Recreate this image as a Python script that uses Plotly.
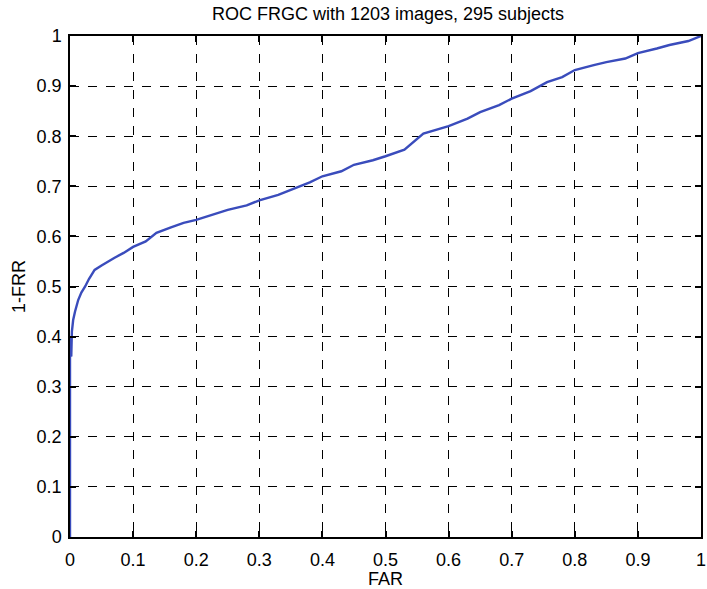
import plotly.graph_objects as go

far = [0.0, 0.0, 0.0015, 0.002, 0.003, 0.005, 0.008, 0.013, 0.018, 0.024, 0.03, 0.039, 0.05, 0.06, 0.07,
       0.085, 0.1, 0.12, 0.137, 0.16, 0.18, 0.2, 0.23, 0.25, 0.28, 0.3, 0.33, 0.35, 0.38, 0.4, 0.43,
       0.45, 0.48, 0.5, 0.53, 0.56, 0.6, 0.63, 0.65, 0.68, 0.7, 0.73, 0.756, 0.78, 0.8, 0.83, 0.85,
       0.88, 0.9, 0.93, 0.95, 0.98, 1.0]
tpr = [0.0, 0.36, 0.40, 0.36, 0.41, 0.433, 0.45, 0.473, 0.488, 0.50, 0.515, 0.533, 0.542, 0.55, 0.557,
       0.567, 0.579, 0.59, 0.607, 0.618, 0.627, 0.633, 0.645, 0.653, 0.662, 0.672, 0.683, 0.693, 0.708, 0.72, 0.73,
       0.743, 0.752, 0.76, 0.773, 0.805, 0.82, 0.835, 0.848, 0.862, 0.875, 0.89, 0.908, 0.918, 0.932, 0.942, 0.948,
       0.955, 0.966, 0.975, 0.982, 0.99, 1.0]

ticks = [0, 0.1, 0.2, 0.3, 0.4, 0.5, 0.6, 0.7, 0.8, 0.9, 1]
tick_text = ["0", "0.1", "0.2", "0.3", "0.4", "0.5", "0.6", "0.7", "0.8", "0.9", "1"]

fig = go.Figure()
fig.add_trace(go.Scatter(x=far, y=tpr, mode="lines", cliponaxis=False,
                         line=dict(color="#3a4cbc", width=2.4), showlegend=False))

FAM = "Liberation Sans, Arial, sans-serif"
font = dict(family=FAM, size=18, color="black")
axis_common = dict(range=[0, 1], tickvals=ticks, ticktext=tick_text,
                   showgrid=True, gridcolor="black", griddash="dash", gridwidth=1,
                   showline=True, linecolor="black", linewidth=1.5, mirror="ticks",
                   ticks="inside", ticklen=6, tickcolor="black", tickwidth=1.5,
                   zeroline=False, tickfont=font, automargin=False,
                   ticklabeloverflow="allow")

fig.update_layout(
    width=707, height=589,
    margin=dict(l=70, r=6, t=36, b=52),
    paper_bgcolor="white", plot_bgcolor="white",
    title=dict(text="ROC FRGC with 1203 images, 295 subjects", x=388 / 707, xanchor="center",
               xref="container", yref="container",
               y=1 - 14 / 589, yanchor="middle", font=dict(family=FAM, size=18, color="black")),
    xaxis=dict(**axis_common, ticklabelstandoff=6, title=dict(text="FAR", font=font, standoff=4)),
    yaxis=dict(**axis_common, ticklabelstandoff=3, title=dict(text="1-FRR", font=font, standoff=6)),
)

fig.write_html("out.html", config={"displayModeBar": False},
               post_script="document.body.style.margin='0';document.body.style.overflow='hidden';")
